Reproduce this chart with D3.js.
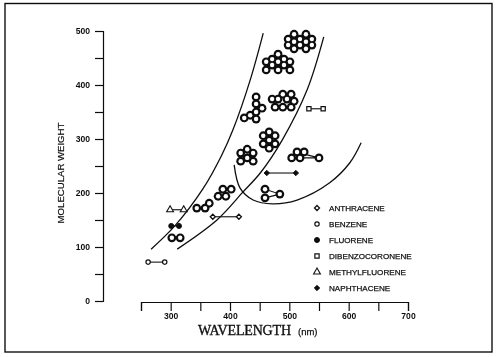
<!DOCTYPE html>
<html><head><meta charset="utf-8">
<script src="https://cdn.jsdelivr.net/npm/d3@7/dist/d3.min.js"></script>
<style>html,body{margin:0;padding:0;background:#fff}svg{display:block}</style>
</head><body><svg id="c" width="500" height="357"></svg>
<script>
// Tick values
const xTicks=[250,300,350,400,450,500,550,600,650,700];
const xLabels=[300,400,500,600,700];
const yTicks=[0,50,100,150,200,250,300,350,400,450,500];
const yLabels=[0,100,200,300,400,500];
// Curves [wavelength, weight]
const curveLeft=[[267,96],[307,139],[354,207],[386,270],[405,317],[434,409],[456,496]];
const curveRight=[[311,96],[378,150],[422,202],[451,237],[488,298],[530,391],[558,489]];
const curveHook=[[407,252],[417,209],[439,187],[472,180],[513,187],[568,219],[602,256],[621,293]];
// Legend series
const benzene=[[262,72],[290,72]];
const anthracene=[[371,156],[415,156]];
const fluorene=[[301,139],[314,139]];
const methylfluorene=[[299,169],[322,169]];
const naphthacene=[[462,237],[511,237]];
const dibenzocoronene=[[533,356],[557,356]];
const legendNames=["ANTHRACENE","BENZENE","FLUORENE","DIBENZOCORONENE","METHYLFLUORENE","NAPHTHACENE"];
// Fused-ring structure marks
const rings2=[[302,117],[316,117]];
const rings3=[[344,172],[358,172],[365,181]];
const rings4=[[380,194],[388,207],[402,207],[393,194]];
const rings6a=[[429,281],[418,274],[439,274],[429,265],[418,259],[439,259]];
const rings7=[[466,313],[456,306],[476,306],[466,298],[456,291],[476,291],[466,283]];
const ringsTail=[[513,276],[525,276],[504,265],[518,265],[550,265]];
const tailLinks=[[525,272],[550,265],[518,265]];
const ringsFork=[[459,207],[459,191],[484,198]];
const forkLinks=[[459,207],[484,198],[459,191]];
const ringsChain=[[444,378],[444,365],[454,357],[444,350],[434,344],[424,339],[444,337]];
const rings9=[[471,374],[489,383],[503,383],[481,374],[496,374],[508,370],[476,359],[489,359],[503,359]];
const rings11=[[481,457],[471,448],[491,448],[461,443],[481,443],[501,443],[471,437],[491,437],[461,428],[481,428],[501,428]];
const rings12=[[508,494],[528,494],[498,485],[518,485],[538,485],[508,480],[528,480],[498,474],[518,474],[538,474],[508,467],[528,467]];

const svg=d3.select("#c");
const defs=svg.append("defs");
defs.append("filter").attr("id","scan").attr("x","-2%").attr("y","-2%").attr("width","104%").attr("height","104%")
  .append("feGaussianBlur").attr("stdDeviation",0.4);
const g=svg.append("g").attr("filter","url(#scan)");
const ink="#111";
const x=d3.scaleLinear().domain([250,700]).range([141,408]);
const y=d3.scaleLinear().domain([0,500]).range([301,31]);

g.append("rect").attr("x",5).attr("y",3.5).attr("width",487).attr("height",348.5)
  .attr("fill","none").attr("stroke",ink).attr("stroke-width",1.4);

const xAxis=d3.axisBottom(x).tickValues(xTicks).tickSize(9).tickPadding(2)
  .tickFormat(d=>xLabels.includes(d)?d:"");
const yAxis=d3.axisLeft(y).tickValues(yTicks).tickSize(8).tickPadding(5)
  .tickFormat(d=>yLabels.includes(d)?d:"");
const gx=g.append("g").attr("transform","translate(0,302)").call(xAxis);
const gy=g.append("g").attr("transform","translate(103,0)").call(yAxis);
[gx,gy].forEach(a=>{
  a.selectAll("path,line").attr("stroke",ink).attr("stroke-width",1.2);
  a.selectAll("text").attr("fill",ink).attr("font-family","'Liberation Sans',sans-serif")
   .attr("font-size",8.6).attr("font-weight","bold");
});

g.append("text").attr("transform","translate(64,173) rotate(-90)").attr("text-anchor","middle")
  .attr("font-family","'Liberation Sans',sans-serif").attr("font-size",9.6).attr("fill",ink)
  .attr("stroke",ink).attr("stroke-width",0.2).text("MOLECULAR WEIGHT");
g.append("text").attr("x",198).attr("y",335).attr("font-family","'Liberation Serif',serif")
  .attr("font-size",14).attr("fill",ink).attr("textLength",93).attr("stroke",ink).attr("stroke-width",0.35).text("WAVELENGTH");
g.append("text").attr("x",298).attr("y",335).attr("font-family","'Liberation Sans',sans-serif")
  .attr("font-size",9.5).attr("fill",ink).attr("stroke",ink).attr("stroke-width",0.25).text("(nm)");

const lineGen=d3.line().x(d=>x(d[0])).y(d=>y(d[1]));
const smooth=d3.line().x(d=>x(d[0])).y(d=>y(d[1])).curve(d3.curveCatmullRom.alpha(0.5));
[curveLeft,curveRight,curveHook].forEach(c=>{
  g.append("path").attr("d",smooth(c)).attr("fill","none").attr("stroke",ink).attr("stroke-width",1.3);
});

function links(pts){
  g.append("path").attr("d",lineGen(pts)).attr("fill","none").attr("stroke",ink).attr("stroke-width",1.1);
}
[benzene,anthracene,fluorene,methylfluorene,naphthacene,dibenzocoronene,tailLinks,forkLinks].forEach(links);

function rings(pts){
  g.append("g").selectAll("circle").data(pts).join("circle")
    .attr("cx",d=>x(d[0])).attr("cy",d=>y(d[1])).attr("r",4.4).attr("fill",ink);
  g.append("g").selectAll("circle").data(pts).join("circle")
    .attr("cx",d=>x(d[0])).attr("cy",d=>y(d[1])).attr("r",2.2).attr("fill","#fff");
}
[rings2,rings3,rings4,rings6a,rings7,ringsTail,ringsFork,ringsChain,rings9,rings11,rings12].forEach(rings);

const sym={
  anthracene:{t:d3.symbolDiamond2,s:16,fill:"#fff",sw:1.3},
  benzene:{t:d3.symbolCircle,s:15,fill:"#fff",sw:1.2},
  fluorene:{t:d3.symbolCircle,s:20,fill:ink,sw:1},
  dibenzocoronene:{t:d3.symbolSquare,s:18,fill:"#fff",sw:1.2},
  methylfluorene:{t:d3.symbolTriangle,s:20,fill:"#fff",sw:1.1},
  naphthacene:{t:d3.symbolDiamond2,s:18,fill:ink,sw:1}
};
function marks(pts,k){
  const m=sym[k];
  g.append("g").selectAll("path").data(pts).join("path")
    .attr("d",d3.symbol().type(m.t).size(m.s))
    .attr("transform",d=>`translate(${x(d[0])},${y(d[1])})`)
    .attr("fill",m.fill).attr("stroke",ink).attr("stroke-width",m.sw);
}
marks(benzene,"benzene");marks(anthracene,"anthracene");marks(fluorene,"fluorene");
marks(methylfluorene,"methylfluorene");marks(naphthacene,"naphthacene");marks(dibenzocoronene,"dibenzocoronene");

const legendY=d3.scalePoint().domain(legendNames).range([208,288]);
const legendKeys=["anthracene","benzene","fluorene","dibenzocoronene","methylfluorene","naphthacene"];
legendNames.forEach((n,i)=>{
  const m=sym[legendKeys[i]];
  g.append("path").attr("d",d3.symbol().type(m.t).size(m.s))
    .attr("transform",`translate(317,${legendY(n)})`).attr("fill",m.fill).attr("stroke",ink).attr("stroke-width",m.sw);
  g.append("text").attr("x",329).attr("y",legendY(n)+3).attr("font-family","'Liberation Sans',sans-serif")
    .attr("font-size",8.1).attr("fill",ink).attr("stroke",ink).attr("stroke-width",0.25).text(n);
});
</script></body></html>
